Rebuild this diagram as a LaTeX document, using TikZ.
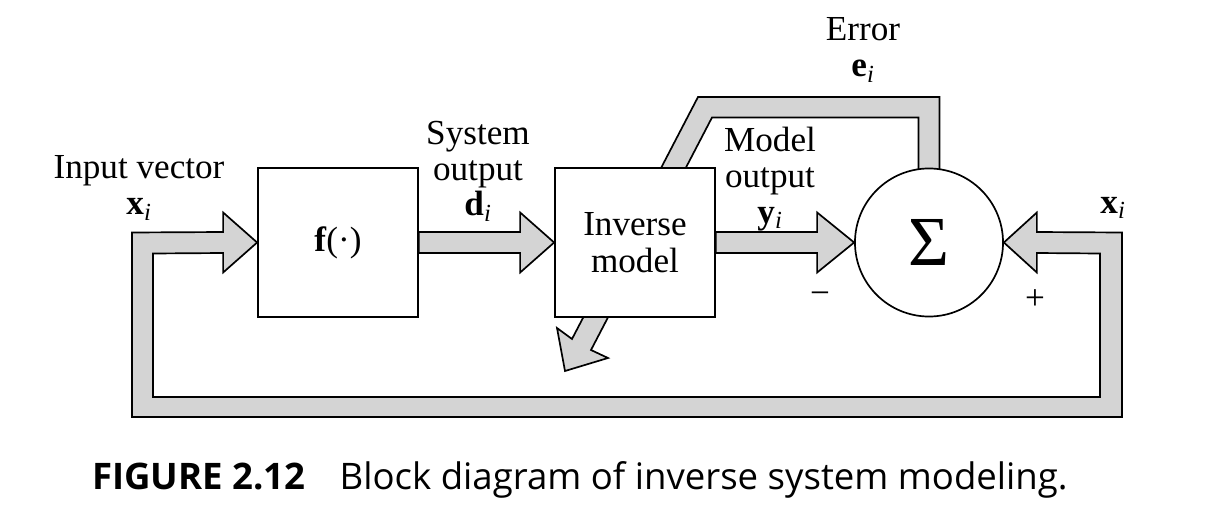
\documentclass[tikz,border=0pt]{standalone}
\usepackage{fontspec}
\setmainfont{Liberation Serif}
\newfontfamily\capfont{Open Sans}
\usetikzlibrary{calc,backgrounds}

\begin{document}
\begin{tikzpicture}[x=0.025cm, y=-0.025cm,
    block/.style={draw, fill=white, line width=1.2pt, minimum width=4cm, minimum height=3.72cm, align=center, font=\fontsize{25}{26.5}\selectfont},
    sumnode/.style={circle, draw, fill=white, line width=1.2pt, minimum size=3.7cm, inner sep=0pt, font=\fontsize{50}{52}\selectfont},
    lbl/.style={align=center, inner sep=0pt, font=\fontsize{25}{25.5}\selectfont},
    band/.style={draw, fill=black!17, line width=1.2pt, line join=miter}]
\useasboundingbox (0,0) rectangle (1210,512);

\node (F) at (338, 242.5) [block] {\textbf{f}(·)};
\node (Inv) at (635, 242.5) [block] {Inverse\\model};
\node (S) at (929, 242.5) [sumnode] {Σ};

\node (InLbl) at (139, 188) [lbl] {Input vector\\\textbf{x}\textsubscript{\itshape i}};
\node (DLbl) at (478, 171) [lbl] {System\\output\\\textbf{d}\textsubscript{\itshape i}};
\node (YLbl) at (770, 179) [lbl] {Model\\output\\\textbf{y}\textsubscript{\itshape i}};
\node (ELbl) at (863, 50) [lbl] {Error\\\textbf{e}\textsubscript{\itshape i}};
\node (XLbl) at (1113, 208) [lbl] {\textbf{x}\textsubscript{\itshape i}};
\node (Minus) at (820, 298) [lbl] {−};
\node (Plus) at (1035, 300) [lbl] {+};

\node (Cap) at (92, 489) [anchor=base west, inner sep=0pt, font=\capfont\fontsize{26}{28}\selectfont]
  {\textbf{FIGURE 2.12}\hspace{0.85cm}Block diagram of inverse system modeling.};

\coordinate (AdaptTip) at (565, 371);

\begin{scope}[on background layer]
% system output d
\draw[band] ($(F.east)+(0,-10.5)$) -- ($(Inv.west)+(-34,-10.5)$) -- ++(0,-19.5) -- (Inv.west)
  -- ++(-34,30) -- ++(0,-19.5) -- ($(F.east)+(0,10.5)$) -- cycle;
% model output y
\draw[band] ($(Inv.east)+(0,-10.5)$) -- ($(S.west)+(-37,-10.5)$) -- ++(0,-19.5) -- (S.west)
  -- ++(-37,30) -- ++(0,-19.5) -- ($(Inv.east)+(0,10.5)$) -- cycle;
% input x, fed to both f and the sum
\draw[band] (S.east) -- ++(33,-30) -- ++(0,19.5) -- (1122,232.5) -- (1122,417) -- (132,417)
  -- (132,232.5) -- ($(F.west)+(-34,-10.5)$) -- ++(0,-19.5) -- (F.west) -- ++(-34,30)
  -- ++(0,-19.5) -- (153,253.5) -- (153,397) -- (1100,397) -- (1100,253.5)
  -- ($(S.east)+(33,10.5)$) -- ++(0,19.5) -- cycle;
% error e back through the inverse model
\draw[band] ($(S.north)+(10.5,5)$) -- (939.5,97) -- (698,97) -- (572,339) -- (557,328)
  -- (AdaptTip) -- (608,358) -- (591,350) -- (712,117.5) -- (918.5,117.5)
  -- ($(S.north)+(-10.5,5)$) -- cycle;
\end{scope}
\end{tikzpicture}
\end{document}
